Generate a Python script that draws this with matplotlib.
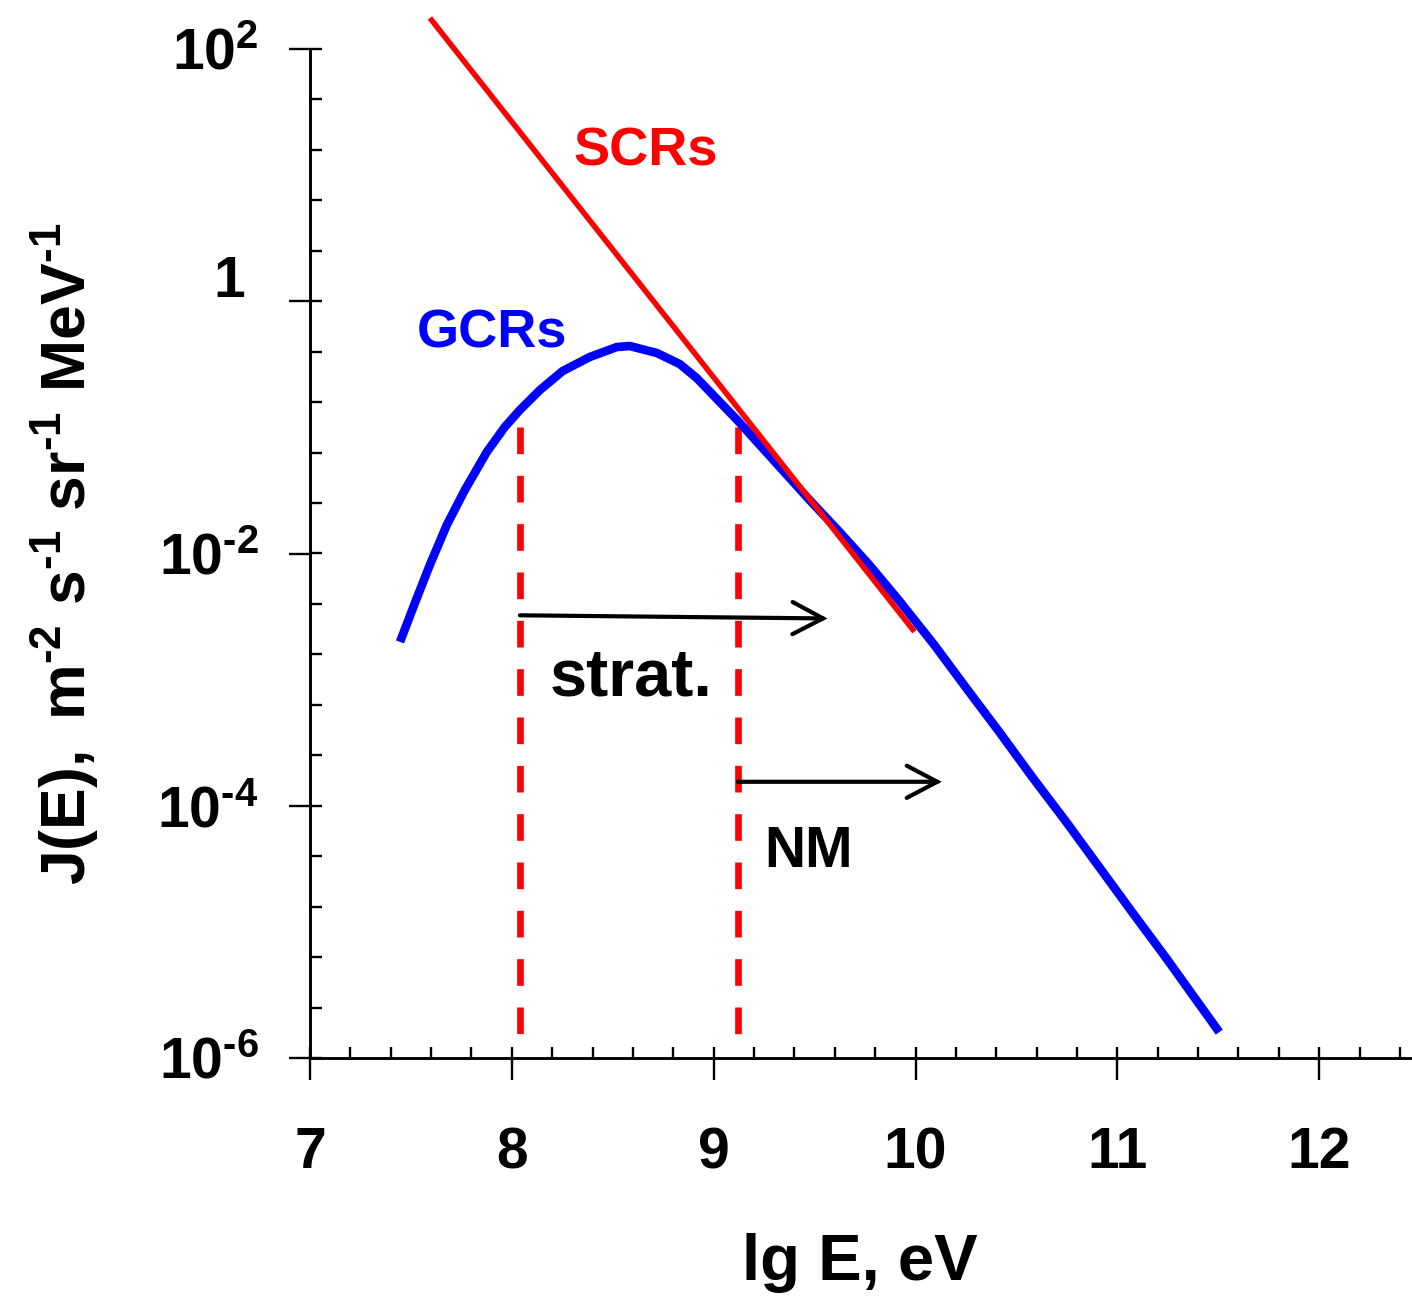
import numpy as np
import matplotlib
matplotlib.use('Agg')
import matplotlib.pyplot as plt
from matplotlib.ticker import FixedLocator, NullFormatter

# galactic cosmic rays: lg E (eV) and lg J
gcr_lg_e = [7.446, 7.520, 7.594, 7.678, 7.767, 7.876, 7.965, 8.040, 8.139, 8.252,
            8.386, 8.520, 8.584, 8.718, 8.832, 8.916, 9.119, 9.327, 9.475, 9.624,
            9.772, 9.921, 10.094, 10.252, 10.416, 10.579, 10.748, 10.911, 11.074,
            11.243, 11.381, 11.505]
gcr_lg_j = [-2.701, -2.391, -2.090, -1.773, -1.497, -1.195, -0.997, -0.862, -0.704, -0.553,
            -0.442, -0.363, -0.355, -0.410, -0.498, -0.609, -0.946, -1.314, -1.576, -1.830,
            -2.092, -2.378, -2.727, -3.068, -3.417, -3.774, -4.131, -4.488, -4.845,
            -5.210, -5.518, -5.795]

# solar cosmic rays, power law
scr_lg_e = [7.594, 9.995]
scr_lg_j = [2.246, -2.62]

# detection thresholds (stratosphere, neutron monitors)
thresholds = [8.04, 9.12]
threshold_top = 1e-1
threshold_bottom = 1.5e-6

# arrows: (start lg E, end lg E, lg J at start, lg J at end)
arrows = [(8.04, 9.564, -2.49, -2.515),
          (9.12, 10.13, -3.81, -3.81)]

ytick_vals = [1e2, 1, 1e-2, 1e-4, 1e-6]
ytick_text = [r'$10^{2}$', '1', r'$10^{\text{-}2}$', r'$10^{\text{-}4}$', r'$10^{\text{-}6}$']

plt.rcParams.update({
    'font.family': 'Liberation Sans',
    'font.weight': 'bold',
    'axes.labelweight': 'bold',
    'mathtext.fontset': 'custom',
    'mathtext.rm': 'Liberation Sans:bold',
    'mathtext.it': 'Liberation Sans:bold',
    'mathtext.bf': 'Liberation Sans:bold',
    'mathtext.default': 'rm',
})

fig = plt.figure(figsize=(14.12, 13.04), dpi=100)
ax = fig.add_axes([310 / 1412, 1 - 1058 / 1304, 1100 / 1412, 1009 / 1304])

ax.set_xlim(7, 12.45)
ax.set_yscale('log')
ax.set_ylim(1e-6, 1e2)

for s in ['top', 'right']:
    ax.spines[s].set_visible(False)
for s in ['left', 'bottom']:
    ax.spines[s].set_linewidth(2.1)

# x axis ticks
ax.set_xticks(range(7, 13))
ax.xaxis.set_minor_locator(FixedLocator(np.arange(7, 12.41, 0.2)))
ax.xaxis.remove_overlapping_locs = False
ax.tick_params(axis='x', which='major', direction='out', length=16, width=1.7,
               labelsize=41, pad=33)
ax.tick_params(axis='x', which='minor', direction='in', length=8, width=1.7)

# y axis ticks
ax.yaxis.set_major_locator(FixedLocator(ytick_vals))
ax.yaxis.set_minor_locator(FixedLocator(10 ** np.arange(-6, 2.01, 0.4)))
ax.yaxis.set_major_formatter(NullFormatter())
ax.yaxis.set_minor_formatter(NullFormatter())
ax.yaxis.remove_overlapping_locs = False
ax.tick_params(axis='y', which='major', direction='out', length=15, width=1.7)
ax.tick_params(axis='y', which='minor', direction='in', length=8.5, width=1.7)

for val, txt in zip(ytick_vals, ytick_text):
    off = (-47, 3) if txt == '1' else (-37, -15)
    ax.annotate(txt, xy=(0, val), xycoords=('axes fraction', 'data'),
                xytext=off, textcoords='offset points',
                ha='right', va='baseline', fontsize=41)

# curves
ax.plot(gcr_lg_e, 10 ** np.array(gcr_lg_j), color='#0000ff', lw=6.2,
        solid_capstyle='butt', solid_joinstyle='round', zorder=3)
ax.plot(scr_lg_e, 10 ** np.array(scr_lg_j), color='#ff0000', lw=4.0,
        solid_capstyle='butt', clip_on=False, zorder=4)

for xt in thresholds:
    ax.plot([xt, xt], [threshold_top, threshold_bottom], color='#ff0000', lw=4.8,
            dashes=(4, 3.25), zorder=2)

for x0, x1, y0, y1 in arrows:
    ax.annotate('', xy=(x1, 10 ** y1), xytext=(x0, 10 ** y0),
                arrowprops=dict(arrowstyle='->,head_length=1.1,head_width=0.58',
                                mutation_scale=20, lw=3.0, color='black',
                                shrinkA=0, shrinkB=0, capstyle='round',
                                joinstyle='miter'))

ax.text(8.663, 10 ** 1.080, 'SCRs', color='#ff0000', fontsize=39,
        ha='center', va='baseline')
ax.text(7.903, 10 ** -0.363, 'GCRs', color='#0000ff', fontsize=39,
        ha='center', va='baseline')
ax.text(8.592, 10 ** -3.123, 'strat.', color='black', fontsize=48,
        ha='center', va='baseline')
ax.text(9.468, 10 ** -4.487, 'NM', color='black', fontsize=41,
        ha='center', va='baseline')

ax.set_xlabel('lg E, eV', fontsize=47, fontweight='bold')
ax.xaxis.set_label_coords(0.5, -0.173)
ax.set_ylabel(r'$J(E),\ m^{\text{-}2}\ s^{\text{-}1}\ sr^{\text{-}1}\ MeV^{\text{-}1}$',
              fontsize=45)
ax.yaxis.set_label_coords(-0.19, 0.5)

fig.savefig('out.png', dpi=100)
